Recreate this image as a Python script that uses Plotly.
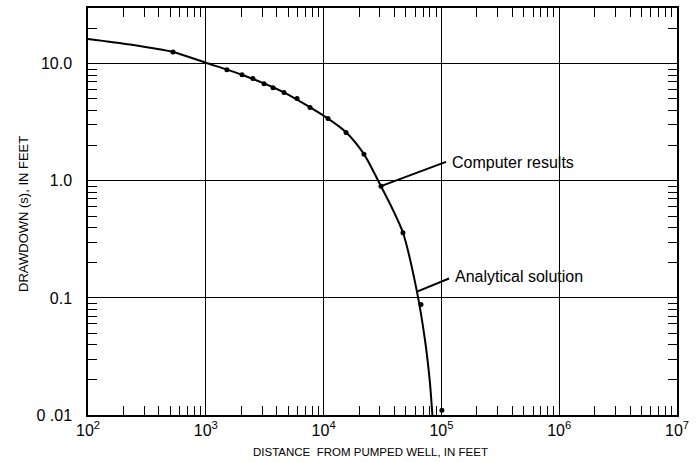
import math
import plotly.graph_objects as go

# Computer results (discrete points)
comp_x = [527, 1510, 2030, 2510, 3120, 3720, 4610, 5950, 7670, 10900, 15500, 22000, 30700, 47200, 67100, 101000]
comp_y = [12.6, 8.9, 8.07, 7.47, 6.76, 6.25, 5.67, 5.05, 4.23, 3.41, 2.59, 1.69, 0.90, 0.36, 0.088, 0.011]

# Analytical solution (curve)
ana_x = [100, 228, 527, 1000, 2000, 4600, 10900, 15500, 22000, 30700, 38100, 47200, 61700, 72600, 80000, 83800, 86000]
ana_y = [16.3, 14.6, 12.6, 10.2, 8.1, 5.7, 3.4, 2.6, 1.69, 0.90, 0.586, 0.36, 0.116, 0.0435, 0.0187, 0.0101, 0.0075]

x_tickvals = [1e2, 1e3, 1e4, 1e5, 1e6, 1e7]
x_ticktext = ["10<sup>2</sup>", "10<sup>3</sup>", "10<sup>4</sup>", "10<sup>5</sup>", "10<sup>6</sup>", "10<sup>7</sup>"]
y_tickvals = [0.01, 0.1, 1, 10]
y_ticktext = ["0 .01", "0.1", "1.0", "10.0"]

x_title = "DISTANCE  FROM PUMPED WELL, IN FEET"
y_title = "DRAWDOWN (s), IN FEET"
label_computer = "Computer results"
label_analytic = "Analytical solution"
analytic_label_at = (62100, 0.113)

FONT = "Liberation Sans, Arial, sans-serif"

x_minor = [m * 10 ** e for e in range(2, 7) for m in range(2, 10)]
y_minor = [m * 10 ** e for e in range(-2, 2) for m in range(2, 10)]

fig = go.Figure()
fig.add_trace(go.Scatter(x=ana_x, y=ana_y, mode="lines", line=dict(color="black", width=2, shape="spline", smoothing=0.7),
                         showlegend=False, hoverinfo="skip"))
fig.add_trace(go.Scatter(x=comp_x, y=comp_y, mode="markers", marker=dict(color="black", size=5),
                         showlegend=False))

axis_common = dict(
    type="log", showline=True, linecolor="black", linewidth=1.5, mirror="allticks",
    showgrid=True, gridcolor="black", gridwidth=1, ticks="", zeroline=False,
    tickfont=dict(family=FONT, size=16, color="black"),
)
fig.update_xaxes(**axis_common, range=[2, 7], tickvals=x_tickvals, ticktext=x_ticktext,
                 minor=dict(tickvals=x_minor, ticks="inside", ticklen=9, tickcolor="black", tickwidth=1.2, showgrid=False))
fig.update_yaxes(**axis_common, range=[-2, 1.476], tickvals=y_tickvals, ticktext=y_ticktext,
                 minor=dict(tickvals=y_minor, ticks="inside", ticklen=9, tickcolor="black", tickwidth=1.2, showgrid=False),
                 ticklabelstandoff=11)

# leader lines and labels
cx, cy = comp_x[12], comp_y[12]
fig.add_annotation(x=math.log10(cx), y=math.log10(cy), text=" ", showarrow=True, arrowhead=0, arrowwidth=2,
                   arrowcolor="black", ax=67, ay=-25, font=dict(size=2))
fig.add_annotation(x=math.log10(cx), y=math.log10(cy), text=label_computer, showarrow=False,
                   xanchor="left", yanchor="middle", xshift=69, yshift=24,
                   font=dict(family=FONT, size=16, color="black"))
ax_, ay_ = analytic_label_at
fig.add_annotation(x=math.log10(ax_), y=math.log10(ay_), text=" ", showarrow=True, arrowhead=0, arrowwidth=2,
                   arrowcolor="black", ax=34, ay=-14, font=dict(size=2))
fig.add_annotation(x=math.log10(ax_), y=math.log10(ay_), text=label_analytic, showarrow=False,
                   xanchor="left", yanchor="middle", xshift=36, yshift=15,
                   font=dict(family=FONT, size=16, color="black"))

# axis titles
fig.add_annotation(xref="paper", yref="paper", x=(370 - 88) / 589, y=-(452 - 415) / 409, text=x_title,
                   showarrow=False, xanchor="center", yanchor="middle",
                   font=dict(family=FONT, size=11.5, color="black"))
fig.add_annotation(xref="paper", yref="paper", x=-(88 - 24) / 589, y=(415 - 213) / 409, text=y_title,
                   showarrow=False, xanchor="center", yanchor="middle", textangle=-90,
                   font=dict(family=FONT, size=13, color="black"))

fig.update_layout(
    width=700, height=462,
    margin=dict(l=88, r=23, t=6, b=47),
    paper_bgcolor="white", plot_bgcolor="white",
    font=dict(family=FONT, color="black"),
    showlegend=False,
)

fig.write_html("out.html", config={"displayModeBar": False},
               post_script="document.body.style.margin='0';document.body.style.overflow='hidden';")
